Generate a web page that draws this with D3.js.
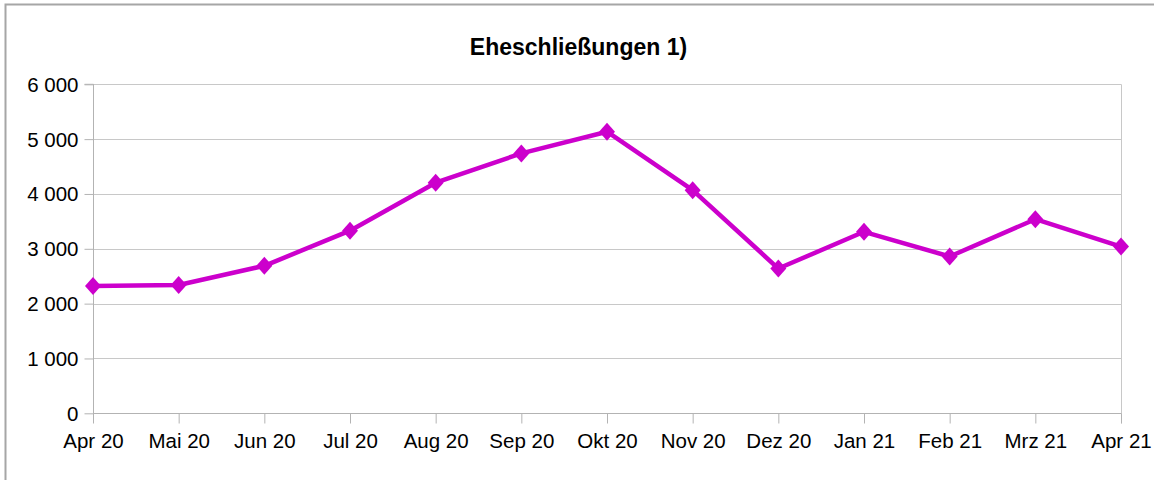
<!DOCTYPE html>
<html>
<head>
<meta charset="utf-8">
<script src="https://cdn.jsdelivr.net/npm/d3@7"></script>
<style>
  body { margin: 0; background: #fff; }
  svg { display: block; font-family: "Liberation Sans", Arial, sans-serif; }
</style>
</head>
<body>
<svg width="1154" height="480"></svg>
<script>
const months = ["Apr 20","Mai 20","Jun 20","Jul 20","Aug 20","Sep 20","Okt 20","Nov 20","Dez 20","Jan 21","Feb 21","Mrz 21","Apr 21"]
const values = [2320, 2340, 2690, 3330, 4205, 4740, 5135, 4070, 2640, 3310, 2860, 3540, 3040]
const yTicks = [0, 1000, 2000, 3000, 4000, 5000, 6000]
const title = "Eheschließungen 1)"

const svg = d3.select('svg')
const W = 1154, H = 480
const plotL = 93, plotR = 1121, plotT = 84.3, plotB = 413.3

// outer frame
svg.append('rect')
  .attr('x', 5.5).attr('y', 4.5)
  .attr('width', W + 10).attr('height', H + 10)
  .attr('fill', 'none').attr('stroke', '#a6a6a6').attr('stroke-width', 2)

const x = d3.scalePoint().domain(months).range([plotL, plotR])
const y = d3.scaleLinear().domain([0, 6000]).range([plotB, plotT])

const fmt = d => d3.format(",")(d).replace(/,/g, " ")

// grid
svg.append('g')
  .selectAll('line')
  .data(yTicks.filter(d => d > 0))
  .join('line')
  .attr('x1', plotL).attr('x2', plotR)
  .attr('y1', d => Math.round(y(d)) + 0.5).attr('y2', d => Math.round(y(d)) + 0.5)
  .attr('stroke', '#c8c8c8')

// right border
svg.append('line')
  .attr('x1', plotR + 0.5).attr('x2', plotR + 0.5)
  .attr('y1', plotT).attr('y2', plotB + 10)
  .attr('stroke', '#c8c8c8')

// y axis
const yAxis = svg.append('g')
  .attr('transform', `translate(${plotL + 0.5},0)`)
  .call(d3.axisLeft(y).tickValues(yTicks).tickFormat(fmt).tickSize(9).tickPadding(6))
yAxis.select('.domain').attr('stroke', '#b3b3b3').attr('d', `M-9,${plotT}H0V${plotB}`)
yAxis.selectAll('.tick line').attr('stroke', '#b3b3b3')
yAxis.selectAll('text').attr('font-size', 20.5).attr('fill', '#000').attr('dy', '0.34em')

// x axis
const xAxis = svg.append('g')
  .attr('transform', `translate(0,${Math.round(plotB) + 0.5})`)
  .call(d3.axisBottom(x).tickSize(10).tickPadding(6))
xAxis.select('.domain').attr('stroke', '#b3b3b3').attr('d', `M${plotL},0H${plotR}`)
xAxis.selectAll('.tick line').attr('stroke', '#b3b3b3')
xAxis.selectAll('text').attr('font-size', 20.5).attr('fill', '#000').attr('dy', '0.9em')

// line
const line = d3.line().x((d, i) => x(months[i])).y(d => y(d))
svg.append('path')
  .datum(values)
  .attr('d', line)
  .attr('fill', 'none')
  .attr('stroke', '#cc00cc')
  .attr('stroke-width', 4.5)
  .attr('stroke-linejoin', 'round')

// diamond markers
svg.append('g')
  .selectAll('path')
  .data(values)
  .join('path')
  .attr('transform', (d, i) => `translate(${x(months[i])},${y(d)})`)
  .attr('d', 'M0,-9L8,0L0,9L-8,0Z')
  .attr('fill', '#cc00cc')

// title
svg.append('text')
  .attr('x', 578.5).attr('y', 55)
  .attr('text-anchor', 'middle')
  .attr('font-size', 23)
  .attr('font-weight', 'bold')
  .attr('fill', '#000')
  .text(title)
</script>
</body>
</html>
